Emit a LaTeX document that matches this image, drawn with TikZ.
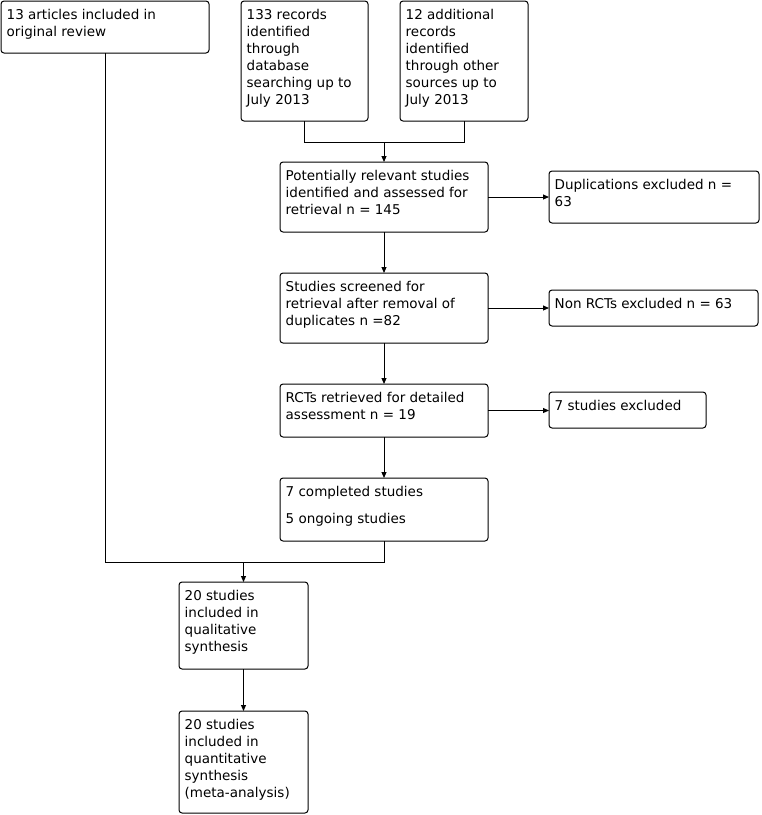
\documentclass[tikz,border=0pt]{standalone}
\usepackage{fontspec}
\setmainfont{DejaVu Sans}
\usetikzlibrary{arrows.meta}
\newcommand\flowbox[6]{%
  \node[box, minimum width=#4pt, minimum height=#5pt] (#1) at (#2,#3) {};
  \node[txt] (#1t) at (#2+5.5,#3+6.1) {\strut #6};}
\begin{document}
\begin{tikzpicture}[x=1pt,y=-1pt,
  box/.style={draw, line width=1pt, rounded corners=3pt, anchor=north west, inner sep=0pt, outer sep=0pt},
  txt/.style={anchor=north west, inner sep=0pt, align=left, font=\fontsize{13.5}{17}\selectfont},
  conn/.style={line width=1pt},
  arr/.style={conn, -{Triangle[length=6pt,width=5pt]}}]
\fill[white] (0,0) rectangle (762,815);
\useasboundingbox (0,0) rectangle (762,815);

\flowbox{A}{1}{1}{208}{52}{13 articles included in\\original review}
\flowbox{B}{241}{1}{127}{120}{133 records\\identified\\through\\database\\searching up to\\July 2013}
\flowbox{C}{400}{1}{128}{120}{12 additional\\records\\identified\\through other\\sources up to\\July 2013}
\flowbox{D}{280}{162}{208}{70}{Potentially relevant studies\\identified and assessed for\\retrieval n = 145}
\flowbox{Dup}{549}{171}{210}{52}{Duplications excluded n =\\63}
\flowbox{E}{280}{273}{208}{70}{Studies screened for\\retrieval after removal of\\duplicates n =82}
\flowbox{N}{549}{290}{209}{36}{Non RCTs excluded n = 63}
\flowbox{F}{280}{384}{208}{53}{RCTs retrieved for detailed\\assessment n = 19}
\flowbox{X}{549}{392}{157}{36}{7 studies excluded}
\flowbox{G}{280}{478}{208}{63}{7 completed studies\\[10pt]5 ongoing studies}
\flowbox{H}{179}{582}{129}{87}{20 studies\\included in\\qualitative\\synthesis}
\flowbox{I}{179}{711}{129}{102}{20 studies\\included in\\quantitative\\synthesis\\(meta-analysis)}

\coordinate (j1) at (0,142);
\coordinate (j2) at (0,562);

\draw[conn] (B.south) -- (B.south |- j1) -- (C.south |- j1) -- (C.south);
\draw[arr] (D.north |- j1) -- (D.north);
\draw[arr] (D.east) -- (Dup.west |- D.east);
\draw[arr] (D.south) -- (E.north);
\draw[arr] (E.east) -- (N.west |- E.east);
\draw[arr] (E.south) -- (F.north);
\draw[arr] (F.east) -- (X.west |- F.east);
\draw[arr] (F.south) -- (G.north);
\draw[conn] (A.south) -- (A.south |- j2) -- (G.south |- j2) -- (G.south);
\draw[arr] (H.north |- j2) -- (H.north);
\draw[arr] (H.south) -- (I.north);
\end{tikzpicture}
\end{document}
